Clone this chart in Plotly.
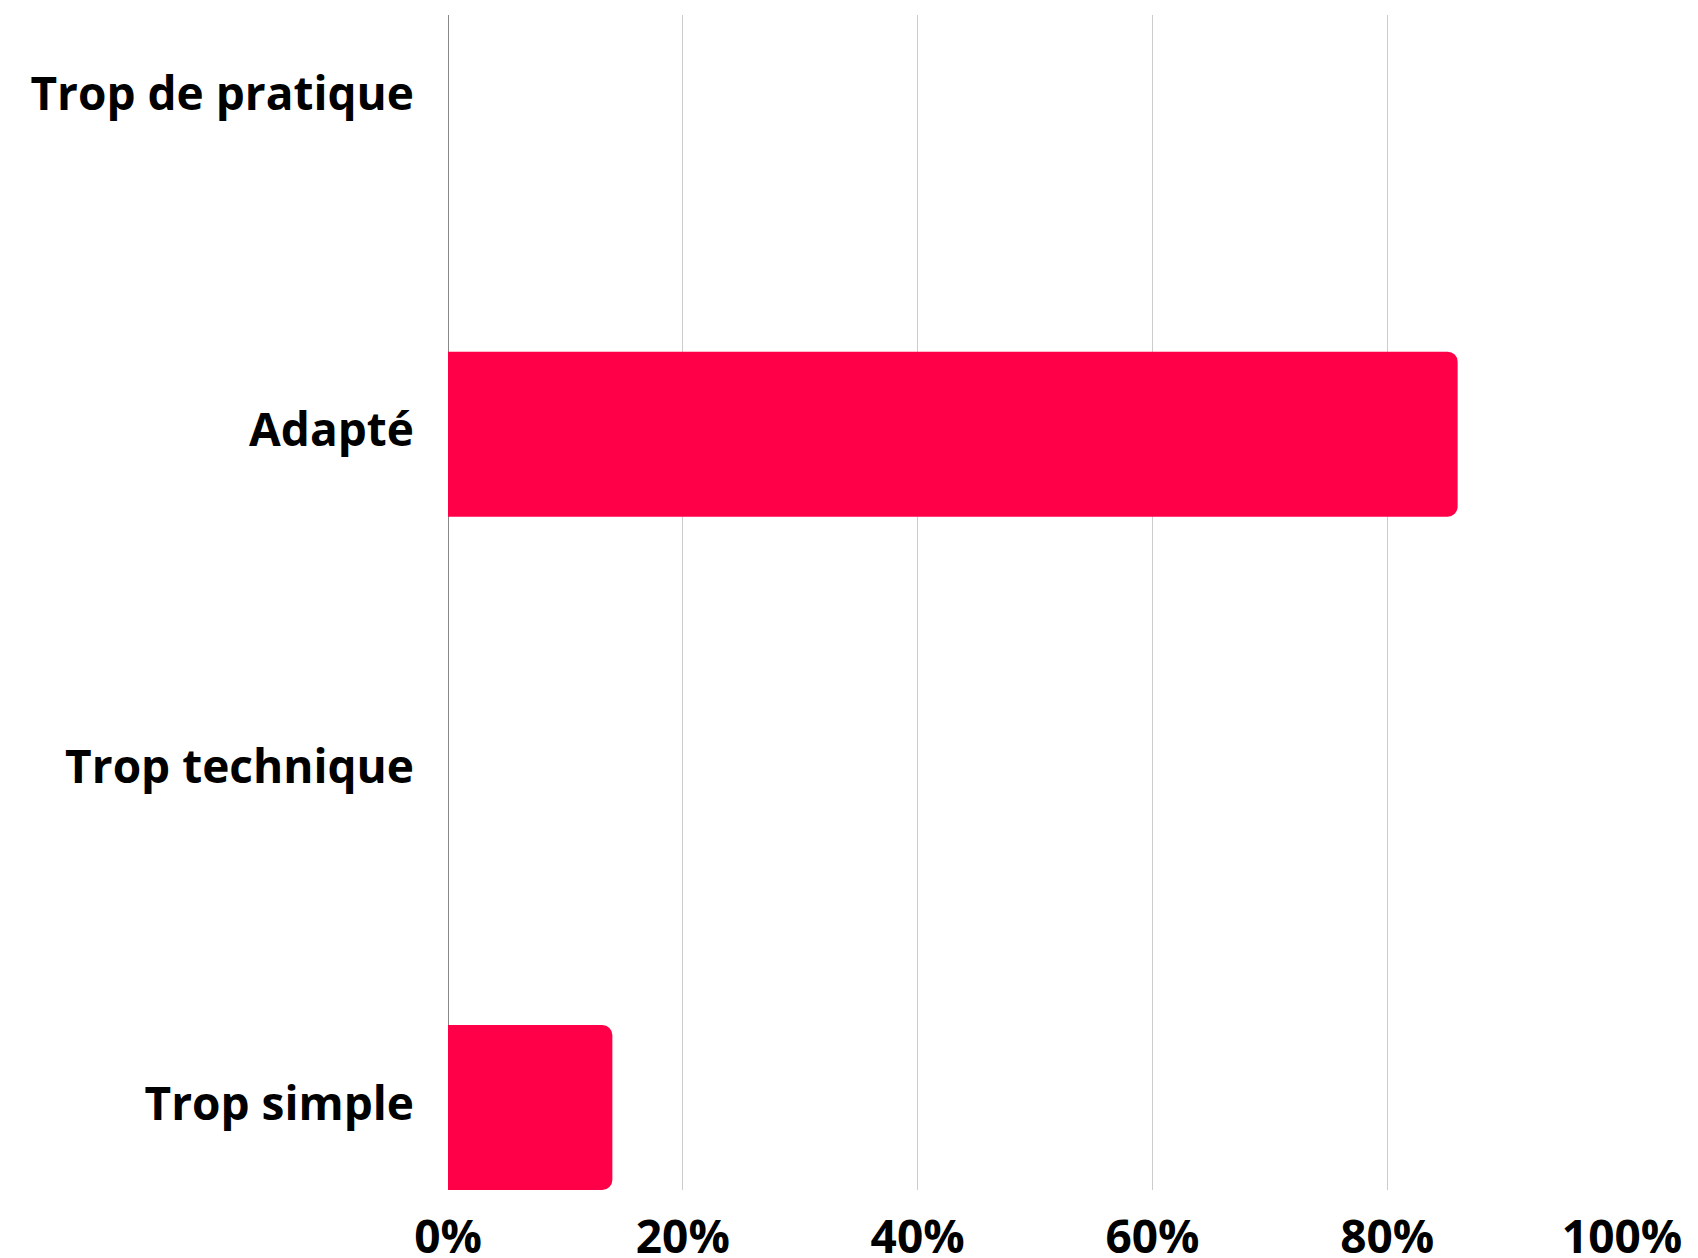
import plotly.graph_objects as go

categories = ["Trop simple", "Trop technique", "Adapté", "Trop de pratique"]
values = [0.14, 0.0, 0.86, 0.0]
x_ticks = [0, 0.2, 0.4, 0.6, 0.8, 1.0]

fig = go.Figure()
fig.add_trace(go.Bar(
    x=values, y=categories, orientation="h",
    marker=dict(color="#FF0048", line=dict(width=0)),
    width=0.49,
    hoverinfo="skip",
))

font_bold = dict(family="Open Sans", size=46, color="#000000", weight="bold")

fig.update_layout(
    width=1690, height=1250,
    margin=dict(l=440, r=76, t=7, b=68),
    paper_bgcolor="white", plot_bgcolor="white",
    showlegend=False,
    barcornerradius=10,
    xaxis=dict(
        range=[0, 1], tickvals=x_ticks, tickformat=".0%",
        showgrid=True, gridcolor="#cccccc", gridwidth=1,
        zeroline=True, zerolinecolor="#888888", zerolinewidth=1,
        showline=False, ticks="",
        tickfont=font_bold,
        ticklabelstandoff=16,
        automargin=False,
    ),
    yaxis=dict(
        type="category", categoryorder="array", categoryarray=categories,
        range=[-0.245, 3.245],
        showgrid=False, zeroline=False, showline=False, ticks="",
        tickfont=font_bold,
        ticklabelstandoff=33,
        ticklabelshift=-4,
        automargin=False,
    ),
)

fig.write_html("out.html")
